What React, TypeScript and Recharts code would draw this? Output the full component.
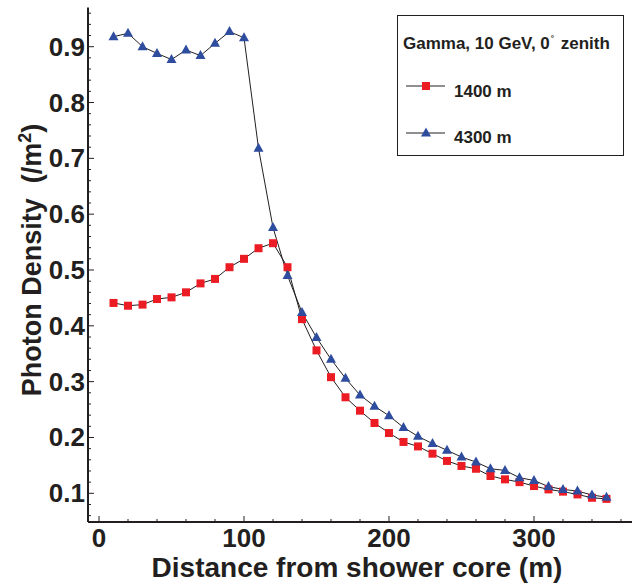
import React from 'react';
import { LineChart, Line, XAxis, YAxis, Legend } from 'recharts';

const distances = [10, 20, 30, 40, 50, 60, 70, 80, 90, 100, 110, 120, 130, 140, 150, 160, 170, 180, 190, 200, 210, 220, 230, 240, 250, 260, 270, 280, 290, 300, 310, 320, 330, 340, 350];
const density1400 = [0.441, 0.436, 0.438, 0.448, 0.451, 0.46, 0.476, 0.484, 0.505, 0.52, 0.539, 0.548, 0.505, 0.412, 0.356, 0.308, 0.272, 0.248, 0.226, 0.208, 0.192, 0.184, 0.171, 0.158, 0.149, 0.144, 0.131, 0.125, 0.12, 0.113, 0.107, 0.103, 0.098, 0.092, 0.09];
const density4300 = [0.918, 0.924, 0.9, 0.888, 0.877, 0.894, 0.884, 0.906, 0.927, 0.916, 0.718, 0.576, 0.49, 0.424, 0.379, 0.34, 0.306, 0.276, 0.256, 0.239, 0.218, 0.202, 0.189, 0.177, 0.165, 0.156, 0.144, 0.141, 0.128, 0.123, 0.112, 0.107, 0.104, 0.097, 0.093];

const seriesNames = ['1400 m', '4300 m'];
const legendTitle = 'Gamma, 10 GeV, 0';
const xTitle = 'Distance from shower core (m)';

const xMajorTicks = [0, 100, 200, 300];
const xTicks = [0, 20, 40, 60, 80, 100, 120, 140, 160, 180, 200, 220, 240, 260, 280, 300, 320, 340, 360];
const yMajorTicks = [0.1, 0.2, 0.3, 0.4, 0.5, 0.6, 0.7, 0.8, 0.9];
const yTicks = [0.06, 0.08, 0.1, 0.12, 0.14, 0.16, 0.18, 0.2, 0.22, 0.24, 0.26, 0.28, 0.3, 0.32, 0.34, 0.36, 0.38, 0.4, 0.42, 0.44, 0.46, 0.48, 0.5, 0.52, 0.54, 0.56, 0.58, 0.6, 0.62, 0.64, 0.66, 0.68, 0.7, 0.72, 0.74, 0.76, 0.78, 0.8, 0.82, 0.84, 0.86, 0.88, 0.9, 0.92, 0.94, 0.96];

const xDomain: [number, number] = [-7.6, 367.6];
const yDomain: [number, number] = [0.0486, 0.9702];

const data = distances.map((d, i) => ({ x: d, a: density1400[i], b: density4300[i] }));

const INK = '#231f20';
const RED = '#ec1c24';
const BLUE = '#2e4d9e';
const FONT = "'Liberation Sans', Arial, Helvetica, sans-serif";

const isMajor = (list: number[], v: number) => list.some((m) => Math.abs(m - v) < 1e-9);

const BottomTick = (p: any) => {
  const { x, y, payload, index } = p;
  const major = isMajor(xMajorTicks, payload.value);
  return (
    <g key={`bt-${index}`}>
      <line x1={x} x2={x} y1={y} y2={y - (major ? 6 : 3)} stroke={INK} strokeWidth={1} />
      {major && (
        <text x={x} y={y + 25} textAnchor="middle" fontFamily={FONT} fontWeight="bold" fontSize={26} fill={INK}>
          {payload.value}
        </text>
      )}
    </g>
  );
};

const TopTick = (p: any) => {
  const { x, y, payload, index } = p;
  const major = isMajor(xMajorTicks, payload.value);
  return <line key={`tt-${index}`} x1={x} x2={x} y1={y} y2={y + (major ? 6 : 3)} stroke={INK} strokeWidth={1} />;
};

const LeftTick = (p: any) => {
  const { x, y, payload, index } = p;
  const major = isMajor(yMajorTicks, payload.value);
  return (
    <g key={`lt-${index}`}>
      <line x1={x} x2={x + (major ? 6 : 3)} y1={y} y2={y} stroke={INK} strokeWidth={1} />
      {major && (
        <text x={x - 3} y={y + 9} textAnchor="end" fontFamily={FONT} fontWeight="bold" fontSize={26} fill={INK}>
          {String(payload.value)}
        </text>
      )}
    </g>
  );
};

const RightTick = (p: any) => {
  const { x, y, payload, index } = p;
  const major = isMajor(yMajorTicks, payload.value);
  return <line key={`rt-${index}`} x1={x} x2={x - (major ? 6 : 3)} y1={y} y2={y} stroke={INK} strokeWidth={1} />;
};

const SquareDot = (p: any) => {
  const { cx, cy, index } = p;
  if (cx == null || cy == null) return <g key={`sq-${index}`} />;
  return <rect key={`sq-${index}`} x={cx - 4} y={cy - 4} width={8} height={8} fill={RED} />;
};

const TriangleDot = (p: any) => {
  const { cx, cy, index } = p;
  if (cx == null || cy == null) return <g key={`tr-${index}`} />;
  return <path key={`tr-${index}`} d={`M${cx},${cy - 5.5} L${cx - 5},${cy + 3.5} L${cx + 5},${cy + 3.5} Z`} fill={BLUE} />;
};

const LegendBox = () => (
  <svg width={227} height={142} style={{ display: 'block' }}>
    <rect x={0.5} y={0.5} width={226} height={140} fill="#ffffff" stroke={INK} strokeWidth={1} />
    <text x={6} y={34} fontFamily={FONT} fontWeight="bold" fontSize={17} fill={INK}>
      {legendTitle}
      <tspan dy={-8} dx={1} fontSize={8}>°</tspan>
      <tspan dy={8} dx={2}>{' zenith'}</tspan>
    </text>
    <line x1={9} x2={48} y1={71} y2={71} stroke={INK} strokeWidth={1} />
    <rect x={25} y={67} width={8} height={8} fill={RED} />
    <text x={57} y={82} fontFamily={FONT} fontWeight="bold" fontSize={17} fill={INK}>{seriesNames[0]}</text>
    <line x1={9} x2={48} y1={118} y2={118} stroke={INK} strokeWidth={1} />
    <path d="M29,112.5 L24,121.5 L34,121.5 Z" fill={BLUE} />
    <text x={57} y={128} fontFamily={FONT} fontWeight="bold" fontSize={17} fill={INK}>{seriesNames[1]}</text>
  </svg>
);

const YTitle = () => (
  <text
    x={41}
    y={260}
    transform="rotate(-90 41 260)"
    textAnchor="middle"
    fontFamily={FONT}
    fontWeight="bold"
    fontSize={27}
    fill={INK}
    xmlSpace="preserve"
  >
    {'Photon Density  (/m'}
    <tspan dy={-10} fontSize={18}>2</tspan>
    <tspan dy={10}>)</tspan>
  </text>
);

const XTitle = () => (
  <text x={357} y={577} textAnchor="middle" fontFamily={FONT} fontWeight="bold" fontSize={28} fill={INK}>
    {xTitle}
  </text>
);

export default function App() {
  return (
    <div style={{ position: 'absolute', left: 0, top: 0, width: 635, height: 584, background: '#ffffff' }}>
      <LineChart width={635} height={584} data={data} margin={{ top: 7.5, right: 3, left: 0, bottom: 0 }}>
        <XAxis
          xAxisId="bottom"
          orientation="bottom"
          type="number"
          dataKey="x"
          domain={xDomain}
          allowDataOverflow
          ticks={xTicks}
          interval={0}
          height={62}
          tickSize={0}
          tickMargin={0}
          tickLine={false}
          axisLine={{ stroke: INK, strokeWidth: 2 }}
          tick={BottomTick}
          label={{ content: () => <XTitle /> }}
        />
        <XAxis
          xAxisId="top"
          orientation="top"
          type="number"
          dataKey="x"
          domain={xDomain}
          allowDataOverflow
          ticks={xTicks}
          interval={0}
          height={0}
          tickSize={0}
          tickMargin={0}
          tickLine={false}
          axisLine={{ stroke: INK, strokeWidth: 1.5 }}
          tick={TopTick}
        />
        <YAxis
          yAxisId="left"
          orientation="left"
          type="number"
          domain={yDomain}
          allowDataOverflow
          ticks={yTicks}
          interval={0}
          width={88}
          tickSize={0}
          tickMargin={0}
          tickLine={false}
          axisLine={{ stroke: INK, strokeWidth: 2 }}
          tick={LeftTick}
          label={{ content: () => <YTitle /> }}
        />
        <YAxis
          yAxisId="right"
          orientation="right"
          type="number"
          domain={yDomain}
          allowDataOverflow
          ticks={yTicks}
          interval={0}
          width={0}
          tickSize={0}
          tickMargin={0}
          tickLine={false}
          axisLine={{ stroke: INK, strokeWidth: 1.5 }}
          tick={RightTick}
        />
        <Legend
          layout="horizontal"
          verticalAlign="middle"
          align="center"
          content={() => <LegendBox />}
          wrapperStyle={{ left: 397, top: 15, width: 227, height: 142 }}
        />
        <Line
          xAxisId="bottom"
          yAxisId="left"
          type="linear"
          dataKey="a"
          name={seriesNames[0]}
          stroke={INK}
          strokeWidth={1}
          dot={SquareDot}
          activeDot={false}
          isAnimationActive={false}
        />
        <Line
          xAxisId="bottom"
          yAxisId="left"
          type="linear"
          dataKey="b"
          name={seriesNames[1]}
          stroke={INK}
          strokeWidth={1}
          dot={TriangleDot}
          activeDot={false}
          isAnimationActive={false}
        />
      </LineChart>
    </div>
  );
}
